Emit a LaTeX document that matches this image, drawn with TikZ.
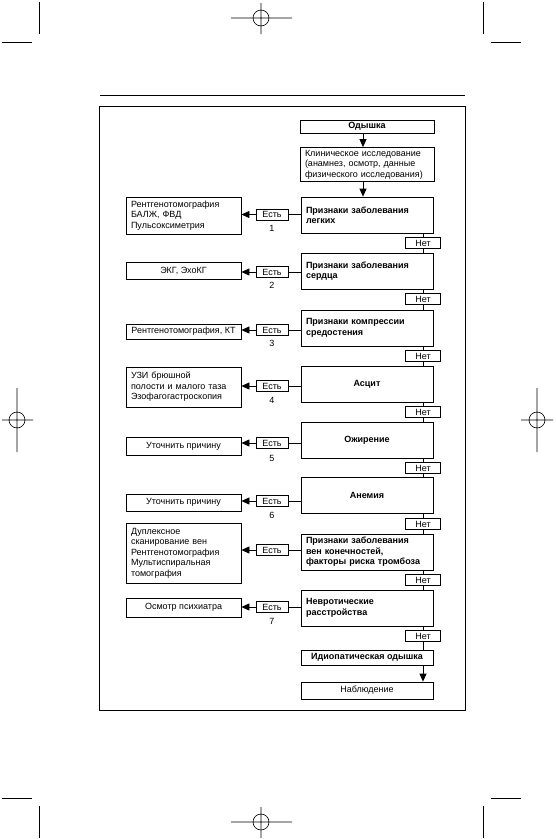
\documentclass[tikz,border=0pt]{standalone}
\usepackage{fontspec}
\setmainfont{Liberation Sans}
\usetikzlibrary{arrows.meta}
\newcommand\myfs{\fontsize{9}{10.5}\selectfont}
\newcommand\mybf{\fontsize{9}{10.5}\selectfont\bfseries}
\tikzset{
  box/.style={draw, line width=0.8pt, inner xsep=5pt, inner ysep=0pt, font=\myfs},
  dec/.style={box, minimum width=132pt, text width=122pt, minimum height=36pt, align=left, font=\mybf},
  decc/.style={box, minimum width=132pt, minimum height=36pt, font=\mybf},
  lbox/.style={box, minimum width=115pt, text width=105pt, align=left},
  lboxc/.style={box, minimum width=115pt},
  yes/.style={box, minimum width=32pt, minimum height=11pt, inner xsep=0pt},
  no/.style={box, minimum width=35pt, minimum height=11pt, inner xsep=0pt},
  num/.style={font=\myfs, inner sep=0pt},
  conn/.style={line width=0.8pt},
  arr/.style={line width=0.8pt, -{Triangle[length=8pt,width=7pt]}},
  cropmark/.style={line width=0.6pt}
}
\begin{document}
\begin{tikzpicture}[x=1pt, y=-1pt]
\useasboundingbox (0,0) rectangle (555,839);
\fill[white] (0,0) rectangle (555,839);

% crop and registration marks
\draw[cropmark] (39,2) -- (39,34) (2,42) -- (32,42);
\draw[cropmark] (483,2) -- (483,34) (491,42) -- (521,42);
\draw[cropmark] (231,18) -- (292,18) (261,3) -- (261,34) (261,18) circle (8);
\draw[cropmark] (2,798) -- (32,798) (39,806) -- (39,838);
\draw[cropmark] (491,798) -- (521,798) (483,806) -- (483,838);
\draw[cropmark] (231,822) -- (292,822) (261,807) -- (261,838) (261,822) circle (8);
\draw[cropmark] (2,420) -- (33,420) (17,388) -- (17,452) (17,420) circle (8);
\draw[cropmark] (521,420) -- (553,420) (537,388) -- (537,452) (537,420) circle (8);

% page rule and frame
\draw[line width=1pt] (100,95) -- (465,95);
\draw[line width=0.9pt] (99,106) rectangle (465,710);

% main column
\node[box, minimum width=134pt, minimum height=13pt, font=\mybf] (top) at (367,126.5) {Одышка};
\node[box, minimum width=134pt, text width=124pt, minimum height=34pt, align=left] (clin) at (367,164.5) {Клиническое исследование\\(анамнез, осмотр, данные\\физического исследования)};
\coordinate (ax) at (363,0);

\node[dec]  (d1) at (367,215) {Признаки заболевания\\легких};
\node[dec]  (d2) at (367,271) {Признаки заболевания\\сердца};
\node[dec]  (d3) at (367,328) {Признаки компрессии\\средостения};
\node[decc] (d4) at (367,384) {Асцит};
\node[decc] (d5) at (367,440) {Ожирение};
\node[decc] (d6) at (367,495.5) {Анемия};
\node[dec]  (d7) at (367,552) {Признаки заболевания\\вен конечностей,\\факторы риска тромбоза};
\node[dec]  (d8) at (367,608) {Невротические\\расстройства};
\node[box, minimum width=132pt, minimum height=15pt, font=\mybf] (idio) at (367,657.5) {Идиопатическая одышка};
\node[box, minimum width=132pt, minimum height=17pt] (obs) at (367,690.5) {Наблюдение};

% Нет labels
\node[no] (n1) at (423,243) {Нет};
\node[no] (n2) at (423,299) {Нет};
\node[no] (n3) at (423,356) {Нет};
\node[no] (n4) at (423,412) {Нет};
\node[no] (n5) at (423,468) {Нет};
\node[no] (n6) at (423,524) {Нет};
\node[no] (n7) at (423,580) {Нет};
\node[no] (n8) at (423,636) {Нет};

% Есть labels
\node[yes] (e1) at (272,214.5) {Есть};
\node[yes] (e2) at (272,272) {Есть};
\node[yes] (e3) at (272,330) {Есть};
\node[yes] (e4) at (272,386) {Есть};
\node[yes] (e5) at (272,443) {Есть};
\node[yes] (e6) at (272,501) {Есть};
\node[yes] (e7) at (272,550) {Есть};
\node[yes] (e8) at (272,607) {Есть};

\node[num] (k1) at (272,228) {1};
\node[num] (k2) at (272,285) {2};
\node[num] (k3) at (272,343) {3};
\node[num] (k4) at (272,400) {4};
\node[num] (k5) at (272,458) {5};
\node[num] (k6) at (272,515) {6};
\node[num] (k7) at (272,621) {7};

% left boxes
\node[lbox, minimum height=37pt] (l1) at (183.5,215.5) {Рентгенотомография\\БАЛЖ, ФВД\\Пульсоксиметрия};
\node[lboxc, minimum height=17pt] (l2) at (183.5,270.5) {ЭКГ, ЭхоКГ};
\node[box, minimum width=115pt, minimum height=15pt, inner xsep=2pt] (l3) at (183.5,331.5) {Рентгенотомография, КТ};
\node[lbox, minimum height=40pt] (l4) at (183.5,387) {УЗИ брюшной\\полости и малого таза\\Эзофагогастроскопия};
\node[lboxc, minimum height=18pt] (l5) at (183.5,446) {Уточнить причину};
\node[lboxc, minimum height=17pt] (l6) at (183.5,502.5) {Уточнить причину};
\node[lbox, minimum height=60pt] (l7) at (183.5,553) {Дуплексное\\сканирование вен\\Рентгенотомография\\Мультиспиральная\\томография};
\node[lboxc, minimum height=19pt] (l8) at (183.5,607.5) {Осмотр психиатра};

% connectors: main column
\draw[arr] (top.south -| ax) -- (clin.north -| ax);
\draw[arr] (clin.south -| ax) -- (d1.north -| ax);
\foreach \a/\n/\b in {d1/n1/d2, d2/n2/d3, d3/n3/d4, d4/n4/d5, d5/n5/d6, d6/n6/d7, d7/n7/d8, d8/n8/idio}{
  \draw[conn] (\a.south -| \n) -- (\n.north);
  \draw[conn] (\n.south) -- (\n |- \b.north);
}
\draw[arr] (idio.south -| n8) -- (obs.north -| n8);

% connectors: Есть branches
\foreach \i in {1,...,8}{
  \draw[conn] (d\i.west |- e\i) -- (e\i.east);
  \draw[arr] (e\i.west) -- (l\i.east |- e\i);
}
\end{tikzpicture}
\end{document}
